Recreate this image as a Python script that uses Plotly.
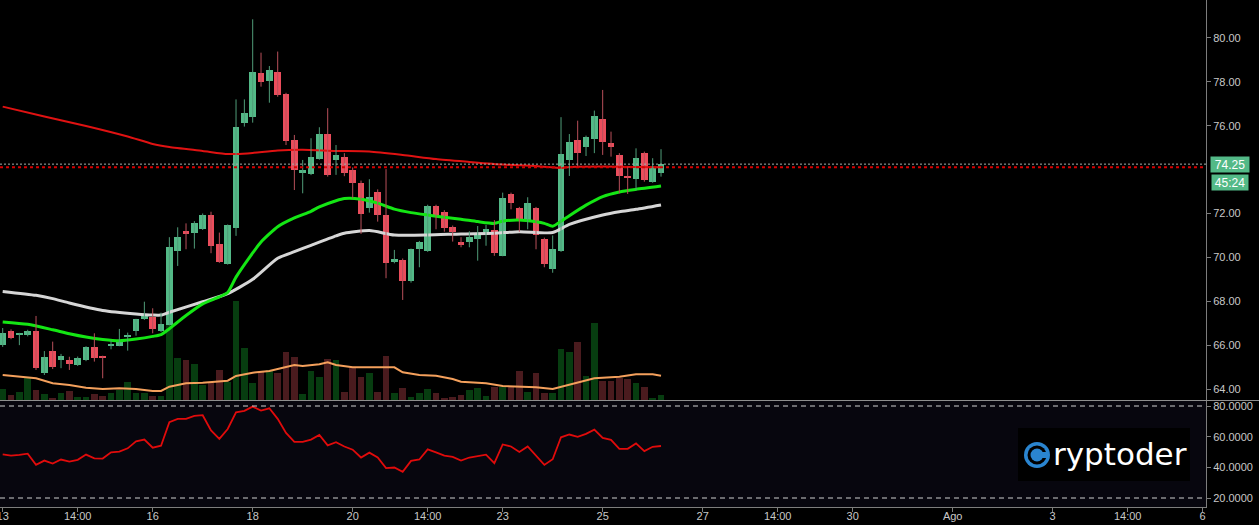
import plotly.graph_objects as go
import pandas as pd

# ---------------- data (4h candles) ----------------
start = pd.Timestamp("2018-07-13 02:00")
step = pd.Timedelta(hours=4)

opens = [66.01, 66.65, 66.48, 66.46, 66.65, 64.74, 65.73, 65.32, 65.32, 65.10,
         65.32, 65.90, 65.50, 65.98, 65.98, 66.41, 66.66, 67.18, 67.27, 66.66,
         66.92, 70.31, 71.22, 71.10, 71.29, 71.93, 70.61, 69.70, 71.33, 76.11,
         76.41, 78.42, 78.05, 78.46, 77.45, 75.35, 73.86, 73.80, 74.48, 75.62,
         74.44, 74.59, 73.98, 73.40, 72.27, 73.00, 71.93, 69.80, 69.88, 68.94,
         70.38, 70.31, 72.34, 72.08, 71.40, 70.68, 70.72, 70.84, 71.17, 71.25,
         70.08, 72.89, 72.24, 71.70, 72.24, 70.82, 69.47, 70.31, 74.44, 75.35,
         75.05, 75.41, 76.31, 75.23, 74.67, 73.68, 73.57, 74.77, 73.45, 73.86]
highs = [66.78, 66.72, 66.56, 66.70, 67.33, 65.73, 66.16, 65.60, 65.47, 65.48,
         65.95, 66.54, 65.52, 66.23, 66.74, 66.57, 67.20, 67.98, 67.68, 67.48,
         70.92, 71.37, 71.55, 71.65, 72.00, 72.08, 71.13, 71.50, 77.20, 77.20,
         80.85, 79.33, 78.72, 79.38, 77.50, 75.58, 74.44, 75.43, 75.93, 76.80,
         75.12, 74.75, 74.10, 73.50, 73.56, 73.10, 74.02, 70.34, 69.95, 70.40,
         70.75, 72.40, 72.40, 72.15, 71.45, 70.92, 71.19, 71.43, 71.48, 71.70,
         72.95, 72.95, 72.30, 72.74, 72.30, 70.90, 71.00, 76.39, 75.62, 76.23,
         75.55, 76.69, 77.63, 75.73, 74.75, 74.11, 74.97, 74.82, 74.52, 74.93]
lows = [65.92, 66.27, 66.00, 66.40, 64.87, 64.64, 64.91, 64.95, 64.87, 65.05,
        65.27, 65.25, 64.49, 65.81, 65.95, 65.75, 66.43, 67.15, 66.54, 66.60,
        66.90, 69.61, 70.37, 70.40, 71.25, 70.19, 69.75, 69.67, 70.98, 75.96,
        76.14, 77.78, 77.05, 77.32, 75.12, 73.07, 72.92, 73.75, 74.45, 73.68,
        73.76, 73.70, 72.69, 71.07, 72.04, 71.63, 69.05, 69.73, 68.06, 68.85,
        69.55, 70.25, 71.28, 71.17, 70.72, 70.46, 70.46, 69.85, 70.53, 70.07,
        70.05, 72.19, 71.17, 71.28, 70.37, 69.55, 69.30, 70.25, 73.71, 74.11,
        74.62, 74.75, 74.67, 74.59, 72.92, 72.89, 73.05, 73.45, 73.40, 73.68]
closes = [66.54, 66.34, 66.52, 66.65, 64.95, 65.47, 65.02, 65.52, 65.14, 65.40,
          65.90, 65.43, 65.45, 66.02, 66.20, 66.45, 67.18, 67.42, 66.74, 66.95,
          70.49, 70.95, 71.07, 71.58, 71.93, 70.53, 69.80, 71.48, 75.96, 76.59,
          78.46, 78.01, 78.54, 77.40, 75.32, 73.98, 73.98, 74.59, 75.62, 73.76,
          74.67, 73.86, 73.40, 71.98, 72.77, 71.93, 69.76, 69.93, 68.94, 70.37,
          70.69, 72.34, 71.83, 71.35, 71.14, 70.60, 70.92, 71.10, 71.29, 70.21,
          72.69, 72.49, 71.67, 72.46, 71.02, 69.70, 70.37, 74.71, 75.27, 74.77,
          75.50, 76.44, 75.27, 75.05, 73.72, 73.62, 74.52, 73.53, 74.09, 74.25]
volumes = [10.7, 5.0, 8.3, 22.7, 10.0, 6.0, 1.7, 7.3, 9.3, 2.7,
           2.7, 6.0, 4.0, 7.3, 10.0, 18.3, 7.3, 6.7, 4.0, 4.0,
           98.3, 41.7, 40.0, 36.0, 15.0, 16.7, 30.0, 18.3, 99.0, 51.7,
           17.3, 28.3, 30.0, 27.3, 48.3, 43.3, 6.0, 29.0, 23.3, 40.7,
           40.0, 8.3, 31.7, 23.3, 27.3, 8.3, 44.0, 7.3, 11.7, 2.7,
           7.3, 11.0, 6.7, 1.7, 2.7, 5.0, 10.0, 11.7, 4.0, 13.3,
           12.7, 12.7, 29.0, 8.3, 27.3, 6.7, 7.3, 50.7, 48.3, 58.0,
           24.0, 76.7, 19.3, 19.3, 21.7, 20.7, 16.7, 12.7, 1.7, 5.0]

# moving averages (candle index, value)
ma_slow_idx = [0, 5, 10, 15, 18, 20, 24, 27, 28, 30, 33, 36, 40, 44, 48, 52, 56,
               60, 64, 66, 67, 68, 72, 76, 79]
ma_slow = [76.87, 76.42, 75.99, 75.51, 75.17, 75.03, 74.85, 74.71, 74.71, 74.76,
           74.87, 74.90, 74.85, 74.83, 74.67, 74.48, 74.35, 74.23, 74.17, 74.10,
           74.07, 74.12, 74.14, 74.12, 74.11]
ma_fast_idx = [0, 3, 6, 8, 10, 12, 14, 16, 18, 19, 20, 22, 24, 26, 27, 28, 30, 31,
               33, 35, 37, 38, 40, 41, 43, 45, 47, 49, 51, 53, 55, 57, 59, 60, 62,
               64, 65, 66, 67, 68, 70, 72, 74, 76, 79]
ma_fast = [67.06, 66.95, 66.70, 66.52, 66.37, 66.26, 66.20, 66.28, 66.40, 66.48,
           66.75, 67.35, 67.88, 68.20, 68.40, 69.10, 70.20, 70.70, 71.40, 71.80,
           72.10, 72.30, 72.58, 72.68, 72.65, 72.47, 72.20, 72.04, 71.93, 71.83,
           71.74, 71.63, 71.55, 71.65, 71.70, 71.62, 71.55, 71.42, 71.65, 71.90,
           72.38, 72.77, 72.98, 73.10, 73.25]
ma_mid_idx = [0, 4, 6, 8, 12, 16, 18, 19, 20, 24, 27, 30, 33, 35, 37, 40, 41, 44,
              47, 51, 55, 59, 62, 66, 68, 72, 74, 76, 79]
ma_mid = [68.45, 68.27, 68.12, 67.92, 67.58, 67.42, 67.37, 67.37, 67.50, 67.98,
          68.35, 69.00, 69.96, 70.26, 70.55, 70.98, 71.10, 71.22, 71.02, 71.02,
          71.07, 71.10, 71.17, 71.13, 71.50, 71.93, 72.08, 72.19, 72.39]
vol_ma_idx = [0, 3, 4, 6, 8, 10, 12, 14, 16, 18, 19, 20, 22, 24, 27, 28, 30, 32,
              34, 35, 36, 38, 39, 40, 42, 47, 48, 50, 52, 54, 55, 58, 60, 62, 64,
              66, 68, 70, 71, 74, 76, 78, 79]
vol_ma = [25.0, 23.0, 21.7, 16.7, 15.0, 12.3, 11.0, 11.7, 11.0, 9.0, 9.0, 13.3,
          16.7, 17.3, 19.3, 24.0, 27.3, 29.0, 32.7, 35.0, 34.0, 35.7, 37.7, 35.0,
          32.7, 32.7, 27.7, 25.0, 24.3, 21.0, 18.3, 16.7, 14.0, 13.3, 12.7, 11.0,
          15.0, 19.0, 21.7, 23.3, 25.7, 25.7, 24.3]
rsi = [48.5, 47.6, 48.1, 48.9, 41.6, 44.4, 42.5, 45.1, 43.8, 44.9,
       48.3, 45.9, 45.7, 49.8, 50.2, 52.4, 56.9, 58.1, 52.8, 54.1,
       69.5, 71.6, 71.6, 73.6, 74.0, 64.1, 58.6, 65.0, 75.9, 76.8,
       79.6, 77.0, 78.5, 71.6, 62.4, 56.6, 56.6, 58.1, 61.1, 54.3,
       56.4, 53.6, 51.5, 46.4, 49.6, 46.4, 39.5, 39.9, 37.1, 44.2,
       45.1, 51.7, 49.8, 47.6, 46.8, 44.4, 46.4, 47.2, 48.3, 42.7,
       54.9, 53.6, 50.0, 53.6, 47.4, 41.6, 45.3, 59.6, 61.4, 59.9,
       61.8, 64.6, 59.2, 57.9, 52.1, 52.1, 55.6, 50.6, 53.4, 53.9]

last_price = 74.25
ma_slow_last = 74.11
countdown = "45:24"

tick_times = ["2018-07-13 02:00", "2018-07-14 14:00", "2018-07-16 02:00", "2018-07-18 02:00",
              "2018-07-20 02:00", "2018-07-21 14:00", "2018-07-23 02:00", "2018-07-25 02:00",
              "2018-07-27 02:00", "2018-07-28 14:00", "2018-07-30 02:00", "2018-08-01 02:00",
              "2018-08-03 02:00", "2018-08-04 14:00", "2018-08-06 02:00"]
tick_labels = ["13", "14:00", "16", "18", "20", "14:00", "23", "25", "27", "14:00",
               "30", "Ago", "3", "14:00", "6"]
# 74.00 is hidden behind the last-price labels in the reference
price_ticks = [64, 66, 68, 70, 72, 76, 78, 80]
rsi_ticks = [20, 40, 60, 80]

# ---------------- geometry / style ----------------
W, H = 1259, 525
PB = 18
PH = H - PB
AX_X = 1206


def px(x):
    return x / W


def py(y):
    return (PH - y) / PH


UP = "#53b987"
DN = "#eb4d5c"
UP_W = "#4f9c78"
DN_W = "#b84f5a"
VUP = "#073d10"
VDN = "#4a1b1e"
AXC = "#7d7d7d"
TXT = "#c8c8c8"
FONT = "Liberation Sans, Arial, sans-serif"

times = [start + step * i for i in range(len(opens))]
up = [c >= o for o, c in zip(opens, closes)]

fig = go.Figure()

# volume (behind everything)
fig.add_trace(go.Bar(x=times, y=volumes, width=0.8 * step.total_seconds() * 1000,
                     marker=dict(color=[VUP if u else VDN for u in up], line=dict(width=0)),
                     yaxis="y", hoverinfo="skip"))
fig.add_trace(go.Scatter(x=[times[i] for i in vol_ma_idx], y=vol_ma, mode="lines",
                         line=dict(color="#f4a05c", width=2), yaxis="y", hoverinfo="skip"))

# moving averages
fig.add_trace(go.Scatter(x=[times[i] for i in ma_slow_idx], y=ma_slow, mode="lines",
                         line=dict(color="#e01212", width=2, shape="spline", smoothing=0.6),
                         yaxis="y2", hoverinfo="skip"))
fig.add_trace(go.Scatter(x=[times[i] for i in ma_mid_idx], y=ma_mid, mode="lines",
                         line=dict(color="#d6d6d6", width=3, shape="spline", smoothing=0.6),
                         yaxis="y2", hoverinfo="skip"))
fig.add_trace(go.Scatter(x=[times[i] for i in ma_fast_idx], y=ma_fast, mode="lines",
                         line=dict(color="#14e614", width=3, shape="spline", smoothing=0.6),
                         yaxis="y2", hoverinfo="skip"))

# wicks
for want, col in ((True, UP_W), (False, DN_W)):
    wx, wy = [], []
    for t, h, l, u in zip(times, highs, lows, up):
        if u == want:
            wx += [t, t, None]
            wy += [l, h, None]
    fig.add_trace(go.Scatter(x=wx, y=wy, mode="lines", line=dict(color=col, width=1),
                             yaxis="y2", hoverinfo="skip"))

# bodies
bases = [min(o, c) for o, c in zip(opens, closes)]
hts = [max(abs(c - o), 0.05) for o, c in zip(opens, closes)]
fig.add_trace(go.Bar(x=times, y=hts, base=bases, width=0.8 * step.total_seconds() * 1000,
                     marker=dict(color=[UP if u else DN for u in up], line=dict(width=0)),
                     yaxis="y2", hoverinfo="skip"))

# RSI
fig.add_trace(go.Scatter(x=times, y=rsi, mode="lines", line=dict(color="#e00b0b", width=1.8),
                         yaxis="y3", hoverinfo="skip"))

x_left = start - step * 0.324
x_right = start + step * 144.4

shapes = [
    # RSI pane background
    dict(type="rect", xref="paper", yref="paper", x0=0, x1=px(AX_X), y0=0, y1=py(401),
         fillcolor="#07060e", line=dict(width=0), layer="below"),
    # pane separator
    dict(type="line", xref="paper", yref="paper", x0=0, x1=1, y0=py(400.5), y1=py(400.5),
         line=dict(color="#8e8e8e", width=1)),
    # last price line
    dict(type="line", xref="paper", yref="y2", x0=0, x1=px(AX_X), y0=last_price, y1=last_price,
         line=dict(color="#a7b0ac", width=1, dash="2px,2px")),
    # MA price line
    dict(type="line", xref="paper", yref="y2", x0=0, x1=px(AX_X), y0=ma_slow_last, y1=ma_slow_last,
         line=dict(color="#d40000", width=2, dash="3px,3px")),
    # RSI bands
    dict(type="line", xref="paper", yref="y3", x0=0, x1=px(AX_X), y0=80, y1=80,
         line=dict(color="#cfcfcf", width=1, dash="5px,4px")),
    dict(type="line", xref="paper", yref="y3", x0=0, x1=px(AX_X), y0=20, y1=20,
         line=dict(color="#cfcfcf", width=1, dash="5px,4px")),
    # logo box
    dict(type="rect", xref="paper", yref="paper", x0=px(1018), x1=px(1190), y0=py(481), y1=py(428),
         fillcolor="#000000", line=dict(width=0)),
]


def circ(cx, cy, r, col):
    return dict(type="circle", xref="paper", yref="paper", x0=px(cx - r), x1=px(cx + r),
                y0=py(cy + r), y1=py(cy - r), fillcolor=col, line=dict(width=0))


LB = "#2a85d0"
shapes += [circ(1037, 455, 13, LB), circ(1037, 455, 9.5, "#000000"), circ(1037, 455, 6.5, LB),
           dict(type="rect", xref="paper", yref="paper", x0=px(1037), x1=px(1048),
                y0=py(458), y1=py(452), fillcolor=LB, line=dict(width=0))]

annotations = [
    dict(text="ryptoder", xref="paper", yref="paper", x=px(1051), y=py(454), xanchor="left",
         yanchor="middle", showarrow=False, font=dict(family="DejaVu Sans", size=31, color="#ffffff")),
    dict(text=f"{last_price:.2f}", xref="paper", yref="y2", x=px(1230), y=last_price,
         xanchor="center", yanchor="middle", showarrow=False, bgcolor=UP, borderpad=0,
         width=38, height=15, font=dict(family=FONT, size=12, color="#ffffff")),
    dict(text=countdown, xref="paper", yref="y2", x=px(1230), y=last_price, yshift=-18,
         xanchor="center", yanchor="middle", showarrow=False, bgcolor=UP, borderpad=0,
         width=36, height=15, font=dict(family=FONT, size=12, color="#ffffff")),
]

tickfont = dict(family=FONT, size=11, color=TXT)
fig.update_layout(
    template="none",
    width=W, height=H,
    margin=dict(l=0, r=0, t=0, b=PB, pad=0),
    paper_bgcolor="#000000", plot_bgcolor="#000000",
    showlegend=False, barmode="overlay", bargap=0,
    xaxis=dict(domain=[0, px(AX_X)], range=[x_left, x_right], anchor="y3", type="date",
               tickmode="array", tickvals=tick_times, ticktext=tick_labels,
               ticks="outside", ticklen=4, tickcolor=AXC, showline=True, linecolor=AXC,
               showgrid=False, zeroline=False, tickfont=tickfont, automargin=False,
               ticklabelstandoff=-5, ticklabeloverflow="allow"),
    yaxis=dict(domain=[py(400), 1], range=[0, 400], visible=False, automargin=False),
    yaxis2=dict(overlaying="y", side="right", anchor="x", range=[63.50, 81.73],
                tickmode="array", tickvals=price_ticks, tickformat=".2f",
                ticks="outside", ticklen=4, tickcolor=AXC, showline=True, linecolor=AXC,
                showgrid=False, zeroline=False, tickfont=tickfont, automargin=False),
    yaxis3=dict(domain=[0, py(401)], anchor="x", side="right", range=[14.13, 83.26],
                tickmode="array", tickvals=rsi_ticks, tickformat=".4f",
                ticks="outside", ticklen=4, tickcolor=AXC, showline=True, linecolor=AXC,
                showgrid=False, zeroline=False, tickfont=tickfont, automargin=False),
    shapes=shapes, annotations=annotations,
)

fig.write_html("out.html", config={"displayModeBar": False},
               post_script="document.body.style.margin='0px';document.body.style.background='#000';")
